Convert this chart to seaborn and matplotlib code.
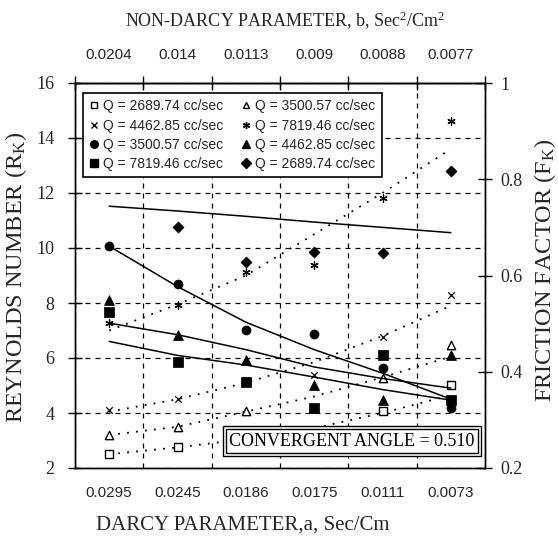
import numpy as np
import matplotlib
matplotlib.use("Agg")
import matplotlib.pyplot as plt
from matplotlib.lines import Line2D
import seaborn as sns

# categories (bottom: Darcy parameter a, top: non-Darcy parameter b)
darcy_a = ["0.0295", "0.0245", "0.0186", "0.0175", "0.0111", "0.0073"]
nondarcy_b = ["0.0204", "0.014", "0.0113", "0.009", "0.0088", "0.0077"]

# Reynolds number (left axis) - points and dotted trend lines
re_q2689 = [2.51, 2.76, 3.0, 3.3, 4.07, 5.02]
re_q3500 = [3.2, 3.49, 4.07, 4.2, 5.27, 6.47]
re_q4462 = [4.1, 4.5, 5.2, 5.38, 6.76, 8.3]
re_q7819 = [7.27, 7.93, 9.13, 9.38, 11.8, 14.6]
re_fit_2689 = [2.5, 2.75, 3.05, 3.45, 4.0, 4.65]
re_fit_3500 = [3.2, 3.5, 4.05, 4.6, 5.3, 6.05]
re_fit_4462 = [4.05, 4.5, 5.1, 5.85, 6.8, 7.9]
re_fit_7819 = [7.0, 7.95, 9.0, 10.5, 12.0, 13.6]

# friction factor (right axis) - points and solid trend lines
ff_q3500 = [0.661, 0.583, 0.487, 0.478, 0.408, 0.325]
ff_q7819 = [0.524, 0.420, 0.379, 0.325, 0.434, 0.341]
ff_q4462 = [0.549, 0.476, 0.424, 0.372, 0.341, 0.435]
ff_q2689 = [np.nan, 0.700, 0.629, 0.649, 0.646, 0.817]
ff_fit_2689 = [0.744, 0.734, 0.723, 0.711, 0.700, 0.689]
ff_fit_3500 = [0.661, 0.577, 0.503, 0.446, 0.397, 0.343]
ff_fit_4462 = [0.501, 0.477, 0.446, 0.410, 0.386, 0.366]
ff_fit_7819 = [0.463, 0.434, 0.414, 0.389, 0.363, 0.341]

sns.set_style("white")
plt.rcParams["font.family"] = ["Liberation Serif", "DejaVu Serif"]
plt.rcParams["mathtext.fontset"] = "custom"
plt.rcParams["mathtext.rm"] = "Liberation Serif"
plt.rcParams["mathtext.it"] = "Liberation Serif:italic"

pos = np.arange(6)
serif = "Liberation Serif"
sans = "Liberation Sans"

fig = plt.figure(figsize=(5.58, 5.42), dpi=100)
ax = fig.add_axes([75 / 558, 1 - 468 / 542, 410 / 558, 385 / 542])
ax2 = ax.twinx()

dot = (0, (1, 4))
for fit in [re_fit_2689, re_fit_3500, re_fit_4462, re_fit_7819]:
    sns.lineplot(x=pos, y=fit, ax=ax, color="black", lw=1.3, linestyle=dot)
for fit in [ff_fit_2689, ff_fit_3500, ff_fit_4462, ff_fit_7819]:
    sns.lineplot(x=pos, y=fit, ax=ax2, color="black", lw=1.1)

sns.scatterplot(x=pos, y=re_q2689, ax=ax, marker="s", s=26, color="white", edgecolor="black", linewidth=1, zorder=3)
sns.scatterplot(x=pos, y=re_q3500, ax=ax, marker="^", s=36, color="white", edgecolor="black", linewidth=1, zorder=3)
sns.scatterplot(x=pos, y=re_q4462, ax=ax, marker="x", s=22, color="black", linewidth=0.9, zorder=3)
sns.scatterplot(x=pos, y=re_q7819, ax=ax, marker=(6, 2, 0), s=28, color="black", linewidth=0.9, zorder=3)

sns.scatterplot(x=pos, y=ff_q3500, ax=ax2, marker="o", s=42, color="black", edgecolor="black", zorder=3)
sns.scatterplot(x=pos, y=ff_q7819, ax=ax2, marker="s", s=42, color="black", edgecolor="black", zorder=3)
sns.scatterplot(x=pos, y=ff_q4462, ax=ax2, marker="^", s=50, color="black", edgecolor="black", zorder=3)
sns.scatterplot(x=pos, y=ff_q2689, ax=ax2, marker="D", s=32, color="black", edgecolor="black", zorder=3)

ax.set_xlim(-0.5, 5.5)
ax.set_ylim(2, 16)
ax2.set_ylim(0.2, 1.0)

bounds = np.arange(-0.5, 6, 1)
ax.set_xticks(bounds)
ax.set_xticklabels([""] * len(bounds))
ax.set_xticks(pos, minor=True)
ax.set_xticklabels(darcy_a, minor=True, fontfamily=sans, fontsize=11)
ax.tick_params(axis="x", which="major", direction="inout", length=10, width=1, color="black")
ax.tick_params(axis="x", which="minor", length=0, pad=13)

ax.set_yticks(np.arange(2, 17, 2))
ax.set_yticklabels([str(v) for v in range(2, 17, 2)], fontfamily=serif, fontsize=13)
ax.tick_params(axis="y", direction="inout", length=10, width=1, color="black", pad=10)

ax2.set_yticks([0.2, 0.4, 0.6, 0.8, 1.0])
ax2.set_yticklabels(["0.2", "0.4", "0.6", "0.8", "1"], fontfamily=serif, fontsize=13)
ax2.tick_params(axis="y", direction="inout", length=10, width=1, color="black", pad=6)

ax.grid(True, which="major", color="black", linestyle=(0, (4, 4)), lw=0.9)
ax2.grid(False)

secx = ax.secondary_xaxis("top")
secx.set_xticks(bounds)
secx.set_xticklabels([""] * len(bounds))
secx.set_xticks(pos, minor=True)
secx.set_xticklabels(nondarcy_b, minor=True, fontfamily=sans, fontsize=11)
secx.tick_params(axis="x", which="major", direction="inout", length=10, width=1, color="black")
secx.tick_params(axis="x", which="minor", length=0, pad=15)

for a in [ax, ax2]:
    for sp in a.spines.values():
        sp.set_color("black")
        sp.set_linewidth(1)
secx.spines["top"].set_linewidth(1)

ax.set_ylabel("REYNOLDS NUMBER (R$_\\mathrm{K}$)", fontsize=17.5, fontfamily=serif)
ax.yaxis.set_label_coords(-0.113, 0.496)
ax2.set_ylabel("FRICTION FACTOR (F$_\\mathrm{K}$)", fontsize=17.5, fontfamily=serif, rotation=90)
ax2.yaxis.set_label_coords(1.116, 0.514)
fig.text(243 / 558, 1 - 525 / 542, "DARCY PARAMETER,a, Sec/Cm",
         ha="center", va="center", fontsize=15, fontfamily=serif)
fig.text(285 / 558, 1 - 21 / 542, "NON-DARCY PARAMETER, b, Sec$^2$/Cm$^2$",
         ha="center", va="center", fontsize=13, fontfamily=serif)

# legend (two columns, filled column by column)
def h(marker, fc, ms):
    return Line2D([], [], ls="none", marker=marker, markerfacecolor=fc,
                  markeredgecolor="black", color="black", markersize=ms, markeredgewidth=1)

handles = [h("s", "white", 4.5), h("x", "black", 4.5), h("o", "black", 5.5), h("s", "black", 5.5),
           h("^", "white", 5), h((6, 2, 0), "black", 5), h("^", "black", 6), h("D", "black", 5)]
labels = ["Q = 2689.74 cc/sec", "Q = 4462.85 cc/sec", "Q = 3500.57 cc/sec", "Q = 7819.46 cc/sec",
          "Q = 3500.57 cc/sec", "Q = 7819.46 cc/sec", "Q = 4462.85 cc/sec", "Q = 2689.74 cc/sec"]
leg = ax2.legend(handles, labels, ncol=2, loc="upper left",
                 bbox_to_anchor=(83 / 558, 1 - 93 / 542), bbox_transform=fig.transFigure,
                 frameon=True, fancybox=False, edgecolor="black", framealpha=1,
                 borderaxespad=0, borderpad=0.45, handlelength=0.7, handletextpad=0.3,
                 columnspacing=1.3, labelspacing=0.38, prop={"family": sans, "size": 10})
leg.get_frame().set_linewidth(1.2)

# convergent angle box with double border
tx, ty = 352 / 558, 1 - 441 / 542
ax2.text(tx, ty, "CONVERGENT ANGLE = 0.510", transform=fig.transFigure, ha="center", va="center",
         fontsize=13, fontfamily=serif, color="none", zorder=6,
         bbox=dict(boxstyle="square,pad=0.34", facecolor="white", edgecolor="black", lw=1))
ax2.text(tx, ty, "CONVERGENT ANGLE = 0.510", transform=fig.transFigure, ha="center", va="center",
         fontsize=13, fontfamily=serif, color="black", zorder=7,
         bbox=dict(boxstyle="square,pad=0.2", facecolor="white", edgecolor="black", lw=1))

fig.savefig("out.png", dpi=100, facecolor="white")
